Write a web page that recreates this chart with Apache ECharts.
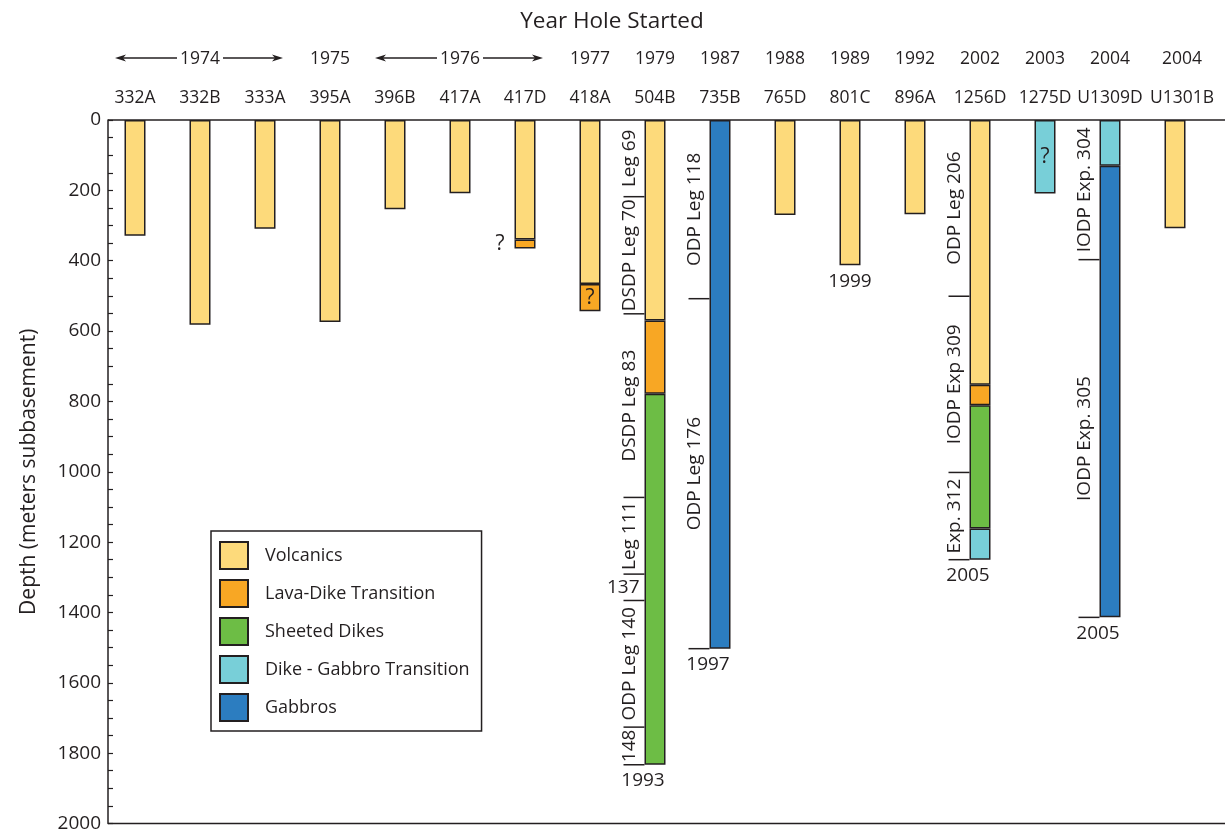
<!DOCTYPE html>
<html>
<head>
<meta charset="utf-8">
<script src="https://cdn.jsdelivr.net/npm/echarts@6/dist/echarts.min.js"></script>
<style>
  html, body { margin: 0; padding: 0; background: #ffffff; }
  #chart { width: 1225px; height: 833px; }
</style>
</head>
<body>
<div id="chart"></div>
<script>
// Drill holes into ocean crust, in the order they were started
const holes = ['332A', '332B', '333A', '395A', '396B', '417A', '417D', '418A', '504B',
  '735B', '765D', '801C', '896A', '1256D', '1275D', 'U1309D', 'U1301B'];

// Year each hole was started (blank where one year spans several holes)
const yearRow = ['', '1974', '', '1975', '', '1976', '', '1977', '1979',
  '1987', '1988', '1989', '1992', '2002', '2003', '2004', '2004'];
// Years shared by a run of holes: [first hole, last hole]
const yearSpans = [['332A', '333A'], ['396B', '417D']];

// Thickness of each rock unit penetrated (m below the top of basement)
const volcanics    = [329, 582, 309, 574, 254, 208, 340, 466, 570, null, 270, 413, 268, 753, null, null, 308];
const lavaDike     = [null, null, null, null, null, null, 25, 78, 208, null, null, null, null, 58, null, null, null];
const sheetedDikes = [null, null, null, null, null, null, null, null, 1055, null, null, null, null, 350, null, null, null];
const dikeGabbro   = [null, null, null, null, null, null, null, null, null, null, null, null, null, 89, 209, 130, null];
const gabbros      = [null, null, null, null, null, null, null, null, null, 1503, null, null, null, null, null, 1284, null];

// Uncertain unit boundaries, marked with "?"
const uncertain = { 'Lava-Dike Transition': ['417D', '418A'], 'Dike - Gabbro Transition': ['1275D'] };

// Drilling legs / expeditions: [hole, top depth, bottom depth, name]
const legs = [
  ['504B', 0, 218, 'Leg 69'],
  ['504B', 218, 551, 'DSDP Leg 70'],
  ['504B', 551, 1073, 'DSDP Leg 83'],
  ['504B', 1073, 1291, 'Leg 111'],
  ['504B', 1291, 1366, '137'],
  ['504B', 1366, 1726, 'ODP Leg 140'],
  ['504B', 1726, 1833, '148'],
  ['735B', 0, 508, 'ODP Leg 118'],
  ['735B', 508, 1503, 'ODP Leg 176'],
  ['1256D', 0, 501, 'ODP Leg 206'],
  ['1256D', 501, 1002, 'IODP Exp 309'],
  ['1256D', 1002, 1250, 'Exp. 312'],
  ['U1309D', 0, 397, 'IODP Exp. 304'],
  ['U1309D', 397, 1414, 'IODP Exp. 305']
];
// Labels written across the bracket instead of along it
const flatLegLabels = ['137'];

// Year the deepest penetration was reached
const completionYears = [['504B', '1993'], ['735B', '1997'], ['801C', '1999'], ['1256D', '2005'], ['U1309D', '2005']];

const units = [
  { name: 'Volcanics', values: volcanics, color: '#FDDA7B' },
  { name: 'Lava-Dike Transition', values: lavaDike, color: '#F8A724' },
  { name: 'Sheeted Dikes', values: sheetedDikes, color: '#6DBD45' },
  { name: 'Dike - Gabbro Transition', values: dikeGabbro, color: '#78CFD8' },
  { name: 'Gabbros', values: gabbros, color: '#2C7DC0' }
];

const INK = '#231F20';
const FONT = '"Open Sans", "Noto Sans", sans-serif';
const BAR_W = 21;
const GRID_LEFT = 102.5;
const AXIS_SHIFT = 5.5;
const HEAD_SIZE = 17.5;

// Total depth of each hole, from the stacked unit thicknesses
const totals = holes.map((h, i) => units.reduce((s, u) => s + (u.values[i] || 0), 0));
const holesWithLegs = new Set(legs.map(l => l[0]));

const barSeries = units.map(u => ({
  name: u.name,
  type: 'bar',
  stack: 'hole',
  barWidth: BAR_W,
  xAxisIndex: 0,
  yAxisIndex: 0,
  itemStyle: { color: u.color, borderColor: INK, borderWidth: 1.5 },
  emphasis: { disabled: true },
  data: u.values.map((v, i) => {
    if (v == null) return '-';
    const marked = (uncertain[u.name] || []).includes(holes[i]);
    if (!marked) return v;
    return {
      value: v,
      label: {
        show: true,
        formatter: '?',
        position: v < 40 ? 'left' : 'inside',
        distance: 10,
        color: INK,
        fontSize: 21,
        fontFamily: FONT
      }
    };
  })
}));

const legSeries = {
  type: 'custom',
  name: 'legs',
  xAxisIndex: 0,
  yAxisIndex: 0,
  clip: false,
  silent: true,
  data: legs.map(l => [l[0], l[1], l[2]]),
  renderItem: function (params, api) {
    const leg = legs[params.dataIndex];
    const top = api.coord([leg[0], leg[1]]);
    const bot = api.coord([leg[0], leg[2]]);
    const left = top[0] - BAR_W / 2;
    const flat = flatLegLabels.includes(leg[3]);
    const midY = (top[1] + bot[1]) / 2;
    return {
      type: 'group',
      children: [
        {
          type: 'line',
          shape: { x1: left - 21, y1: bot[1], x2: left, y2: bot[1] },
          style: { stroke: INK, lineWidth: 1.5 }
        },
        {
          type: 'text',
          x: flat ? left - 5 : left - 15,
          y: midY,
          rotation: flat ? 0 : Math.PI / 2,
          style: {
            text: leg[3],
            fill: INK,
            fontSize: 19,
            fontFamily: FONT,
            align: flat ? 'right' : 'center',
            verticalAlign: 'middle'
          }
        }
      ]
    };
  }
};

const completionSeries = {
  type: 'custom',
  name: 'completed',
  xAxisIndex: 0,
  yAxisIndex: 0,
  clip: false,
  silent: true,
  data: completionYears.map(c => [c[0], totals[holes.indexOf(c[0])]]),
  renderItem: function (params, api) {
    const c = completionYears[params.dataIndex];
    const p = api.coord([c[0], api.value(1)]);
    const shift = holesWithLegs.has(c[0]) ? -12 : 0;
    return {
      type: 'text',
      x: p[0] + shift,
      y: p[1] + 16,
      style: {
        text: c[1], fill: INK, fontSize: 19, fontFamily: FONT,
        align: 'center', verticalAlign: 'middle'
      }
    };
  }
};

// Column headings; the last column gets a little extra room on its left
const headRich = {
  last: { padding: [0, 0, 0, 14], fontSize: HEAD_SIZE, fontFamily: FONT, color: INK }
};
const headFormatter = texts => (v, i) =>
  i === holes.length - 1 ? '{last|' + texts[i] + '}' : texts[i];

const chart = echarts.init(document.getElementById('chart'), null, { renderer: 'canvas' });

const option = {
  animation: false,
  backgroundColor: '#ffffff',
  textStyle: { fontFamily: FONT, color: INK },
  title: {
    text: 'Year Hole Started',
    left: 607,
    top: 5,
    textAlign: 'center',
    textStyle: { fontSize: 22.5, fontWeight: 'normal', color: INK, fontFamily: FONT }
  },
  grid: { left: GRID_LEFT, width: 1105, top: 120, bottom: 8 },
  legend: {
    data: units.map(u => u.name),
    orient: 'vertical',
    left: 211,
    top: 531,
    padding: [10, 12, 9, 8],
    itemWidth: 28,
    itemHeight: 27,
    itemGap: 9,
    borderColor: INK,
    borderWidth: 1.5,
    selectedMode: false,
    icon: 'rect',
    textStyle: { fontSize: 18, color: INK, fontFamily: FONT, padding: [0, 0, 0, 12] }
  },
  xAxis: [
    {
      type: 'category',
      data: holes,
      position: 'top',
      axisLine: { show: false },
      axisTick: { show: false },
      axisLabel: {
        fontSize: HEAD_SIZE, color: INK, margin: 13, fontFamily: FONT, interval: 0,
        formatter: headFormatter(holes), rich: headRich
      }
    },
    {
      type: 'category',
      data: holes,
      position: 'top',
      offset: 39,
      axisLine: { show: false },
      axisTick: { show: false },
      axisLabel: {
        fontSize: HEAD_SIZE, color: INK, margin: 13, fontFamily: FONT, interval: 0,
        formatter: headFormatter(yearRow), rich: headRich
      }
    }
  ],
  yAxis: {
    type: 'value',
    inverse: true,
    min: 0,
    max: 2000,
    interval: 200,
    offset: -AXIS_SHIFT,
    name: 'Depth (meters subbasement)',
    nameLocation: 'middle',
    nameGap: 68,
    nameRotate: 90,
    nameTextStyle: { fontSize: 21, color: INK, fontFamily: FONT },
    axisLine: { show: true, lineStyle: { color: INK, width: 1.5 } },
    axisTick: { show: true, inside: true, length: 5, lineStyle: { color: INK, width: 1.2 } },
    minorTick: { show: true, splitNumber: 4, length: 5, lineStyle: { color: INK, width: 1.2 } },
    splitLine: { show: false },
    axisLabel: { fontSize: 19, color: INK, margin: 7, fontFamily: FONT, formatter: v => String(v) }
  },
  series: barSeries.concat([legSeries, completionSeries])
};

chart.setOption(option);

// Frame lines at the surface and at the bottom of the depth scale, plus the year arrows
const axisX = GRID_LEFT + AXIS_SHIFT;
const ySurf = chart.convertToPixel({ yAxisIndex: 0 }, 0);
const yBase = chart.convertToPixel({ yAxisIndex: 0 }, 2000);
const xOf = h => chart.convertToPixel({ xAxisIndex: 0 }, h);
const yearY = 58;

function arrow(xFrom, xTo) {
  const dir = Math.sign(xTo - xFrom);
  return [
    { type: 'line', shape: { x1: xFrom, y1: yearY, x2: xTo - dir * 8, y2: yearY }, style: { stroke: INK, lineWidth: 1.3 } },
    {
      type: 'polygon',
      shape: { points: [[xTo, yearY], [xTo - dir * 11, yearY - 3.5], [xTo - dir * 8, yearY], [xTo - dir * 11, yearY + 3.5]] },
      style: { fill: INK }
    }
  ];
}

const graphics = [
  { type: 'line', shape: { x1: axisX, y1: ySurf, x2: 1225, y2: ySurf }, style: { stroke: INK, lineWidth: 1.5 } },
  { type: 'line', shape: { x1: axisX, y1: yBase, x2: 1225, y2: yBase }, style: { stroke: INK, lineWidth: 1.5 } }
];
yearSpans.forEach(span => {
  const a = xOf(span[0]);
  const b = xOf(span[1]);
  const mid = (a + b) / 2;
  graphics.push(...arrow(mid - 23, a - 20));
  graphics.push(...arrow(mid + 23, b + 18));
});
chart.setOption({ graphic: graphics });
</script>
</body>
</html>
